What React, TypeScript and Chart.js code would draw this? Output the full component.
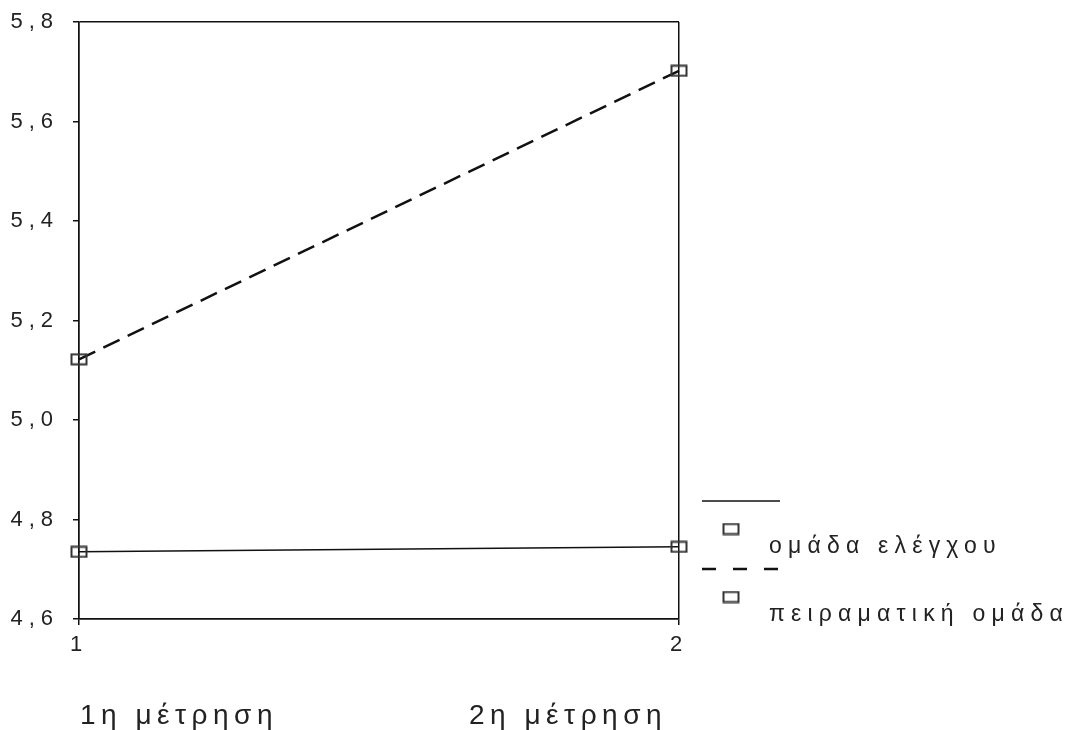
import React, { useEffect, useRef } from "react";
import { Chart, registerables } from "chart.js";

Chart.register(...registerables);

// ---- data ----
const measurements = [1, 2];
const measurementTitles = ["1η μέτρηση", "2η μέτρηση"];
const controlValues = [4.735, 4.745];
const experimentalValues = [5.122, 5.702];
const seriesLabels = ["ομάδα ελέγχου", "πειραματική ομάδα"];
const yMin = 4.6;
const yMax = 5.8;
const yStep = 0.2;

const FONT = "'Liberation Sans', Arial, sans-serif";

function makeMarker(): HTMLCanvasElement {
  const c = document.createElement("canvas");
  c.width = 18;
  c.height = 13;
  const g = c.getContext("2d")!;
  g.strokeStyle = "#333";
  g.lineWidth = 2;
  g.strokeRect(1.5, 1.5, 15, 10);
  return c;
}

const spacingPlugin = {
  id: "spacing",
  beforeDraw(chart: any) {
    (chart.ctx as any).letterSpacing = "6px";
  },
};

function makeDecorPlugin(marker: HTMLCanvasElement) {
  return {
    id: "decor",
    afterDraw(chart: any) {
      const ctx = chart.ctx as CanvasRenderingContext2D;
      const area = chart.chartArea;
      const xs = chart.scales.x;
      ctx.save();
      // measurement titles below the axis
      (ctx as any).letterSpacing = "5.5px";
      ctx.fillStyle = "#222";
      ctx.font = `28px ${FONT}`;
      ctx.textBaseline = "middle";
      ctx.textAlign = "left";
      ctx.fillText(measurementTitles[0], xs.getPixelForValue(measurements[0]) + 1, 716);
      ctx.textAlign = "right";
      ctx.fillText(measurementTitles[1], xs.getPixelForValue(measurements[1]) - 12, 716);

      // legend
      const x0 = area.right + 23;
      chart.data.datasets.forEach((ds: any, i: number) => {
        const ly = 501 + i * 68;
        ctx.beginPath();
        ctx.setLineDash(ds.borderDash ? [14, 17] : []);
        ctx.lineWidth = ds.borderWidth;
        ctx.strokeStyle = ds.borderColor;
        ctx.moveTo(x0, ly);
        ctx.lineTo(x0 + 78, ly);
        ctx.stroke();
        ctx.setLineDash([]);
        ctx.drawImage(marker, x0 + 29 - marker.width / 2, ly + 28 - marker.height / 2);
        (ctx as any).letterSpacing = "6.2px";
        ctx.font = `23px ${FONT}`;
        ctx.textAlign = "left";
        ctx.textBaseline = "middle";
        ctx.fillStyle = "#222";
        ctx.fillText(ds.label, x0 + 67, ly + 46);
      });
      ctx.restore();
    },
  };
}

export default function App() {
  const ref = useRef<HTMLCanvasElement>(null);

  useEffect(() => {
    if (!ref.current) return;
    const marker = makeMarker();
    const isEdge = (v: number) => Math.abs(v - yMin) < 1e-6 || Math.abs(v - yMax) < 1e-6;
    const chart = new Chart(ref.current, {
      type: "line",
      data: {
        datasets: [
          {
            label: seriesLabels[0],
            data: measurements.map((m, i) => ({ x: m, y: controlValues[i] })),
            borderColor: "#111",
            borderWidth: 1.5,
            pointStyle: marker as any,
            pointRadius: 8,
            clip: false as any,
            fill: false,
          },
          {
            label: seriesLabels[1],
            data: measurements.map((m, i) => ({ x: m, y: experimentalValues[i] })),
            borderColor: "#111",
            borderWidth: 2.5,
            borderDash: [18, 9],
            pointStyle: marker as any,
            pointRadius: 8,
            clip: false as any,
            fill: false,
          },
        ],
      },
      options: {
        animation: false,
        responsive: false,
        devicePixelRatio: 1,
        layout: { padding: { top: 22, right: 389, left: 0, bottom: 0 } },
        plugins: {
          legend: { display: false },
          tooltip: { enabled: false },
        },
        scales: {
          x: {
            type: "linear",
            min: measurements[0],
            max: measurements[measurements.length - 1],
            ticks: {
              stepSize: 1,
              color: "#222",
              font: { family: FONT, size: 22 },
              padding: 7,
              callback: (v: any) => String(v),
            },
            grid: {
              color: "#111",
              lineWidth: 1.5,
              tickLength: 6,
              drawTicks: true,
            },
            border: { display: true, color: "#111", width: 1.5 },
            afterFit: (s: any) => {
              s.height = 111;
              s.paddingLeft = 0;
              s.paddingRight = 0;
            },
          },
          y: {
            type: "linear",
            min: yMin,
            max: yMax,
            ticks: {
              stepSize: yStep,
              color: "#222",
              font: { family: FONT, size: 22 },
              padding: 14,
              callback: (v: any) => Number(v).toFixed(1).replace(".", ","),
            },
            grid: {
              color: (c: any) => (c.tick && isEdge(c.tick.value) ? "#111" : "rgba(0,0,0,0)"),
              tickColor: "#111",
              lineWidth: 1.5,
              tickLength: 6,
            },
            border: { display: true, color: "#111", width: 1.5 },
            afterFit: (s: any) => {
              s.width = 79;
              s.paddingTop = 0;
              s.paddingBottom = 0;
            },
          },
        },
      },
      plugins: [spacingPlugin, makeDecorPlugin(marker)],
    });
    return () => chart.destroy();
  }, []);

  return (
    <div style={{ position: "absolute", left: 0, top: 0, width: 1068, height: 730, background: "#fff" }}>
      <canvas ref={ref} width={1068} height={730} style={{ width: 1068, height: 730 }} />
    </div>
  );
}
